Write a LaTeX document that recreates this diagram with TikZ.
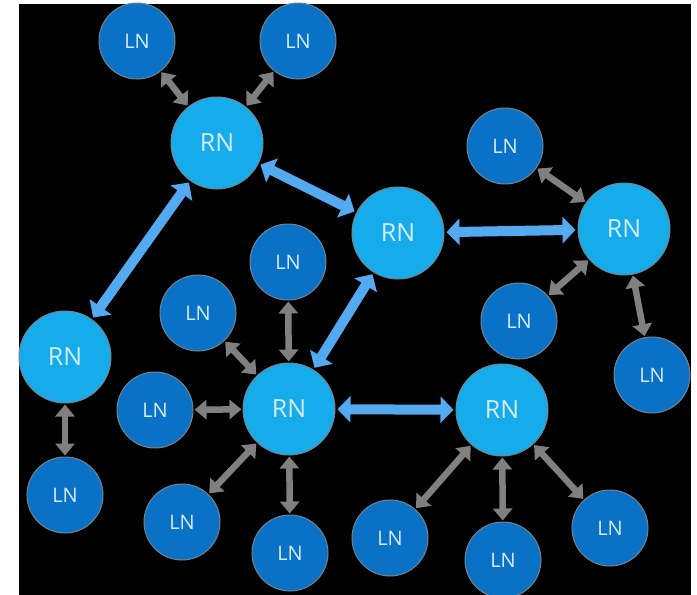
\documentclass[tikz,border=0pt]{standalone}
\usepackage{fontspec}
\setmainfont{Open Sans}
\usetikzlibrary{arrows.meta}

\definecolor{rnblue}{RGB}{22,172,236}
\definecolor{lnblue}{RGB}{10,114,198}
\definecolor{linkblue}{RGB}{84,170,240}
\definecolor{linkgray}{RGB}{128,128,128}
\definecolor{ringgray}{RGB}{120,130,140}
\definecolor{labeltext}{RGB}{215,236,248}

\begin{document}
\begin{tikzpicture}[x=1pt,y=-1pt]
          \tikzstyle{rn}=[circle,fill=rnblue,draw=ringgray,line width=1pt,minimum size=92pt,inner sep=0pt,text=labeltext,font=\fontsize{25}{25}\selectfont]
          \tikzstyle{ln}=[circle,fill=lnblue,draw=ringgray,line width=1pt,minimum size=76pt,inner sep=0pt,text=labeltext,font=\fontsize{20}{20}\selectfont]
          \tikzstyle{rlink}=[color=linkblue,line width=10pt,shorten <=2pt,shorten >=2pt,{Triangle[width=26pt,length=13pt]}-{Triangle[width=26pt,length=13pt]}]
          \tikzstyle{llink}=[color=linkgray,line width=6.5pt,shorten <=1pt,shorten >=1pt,{Triangle[width=19pt,length=12pt]}-{Triangle[width=19pt,length=12pt]}]

          \useasboundingbox (0,0) rectangle (697,595);
          \fill[white] (0,0) rectangle (697,595);
          \fill[black] (19,4) rectangle (691,595);

          \begin{scope}
            % relay nodes
            \node[rn](r1) at (217,143){RN};
            \node[rn](r2) at (398,233){RN};
            \node[rn](r3) at (624,229){RN};
            \node[rn](r4) at (65,357){RN};
            \node[rn](r5) at (289,409){RN};
            \node[rn](r6) at (502,410){RN};

            % leaf nodes
            \node[ln](l1) at (137,41){LN};
            \node[ln](l2) at (298,41){LN};
            \node[ln](l3) at (505,146){LN};
            \node[ln](l4) at (288,262){LN};
            \node[ln](l5) at (198,313){LN};
            \node[ln](l6) at (519,321){LN};
            \node[ln](l7) at (652,375){LN};
            \node[ln](l8) at (155,410){LN};
            \node[ln](l9) at (65,495){LN};
            \node[ln](l10) at (182,522){LN};
            \node[ln](l11) at (290,553){LN};
            \node[ln](l12) at (390,538){LN};
            \node[ln](l13) at (503,560){LN};
            \node[ln](l14) at (610,528){LN};

            \path[rlink]
            (r1) edge (r2)
            (r1) edge (r4)
            (r2) edge (r3)
            (r2) edge (r5)
            (r5) edge (r6);

            \path[llink]
            (l1) edge (r1)
            (l2) edge (r1)
            (l3) edge (r3)
            (l6) edge (r3)
            (l7) edge (r3)
            (l4) edge (r5)
            (l5) edge (r5)
            (l8) edge (r5)
            (l10) edge (r5)
            (l11) edge (r5)
            (l9) edge (r4)
            (l12) edge (r6)
            (l13) edge (r6)
            (l14) edge (r6);
          \end{scope}
        \end{tikzpicture}
\end{document}
